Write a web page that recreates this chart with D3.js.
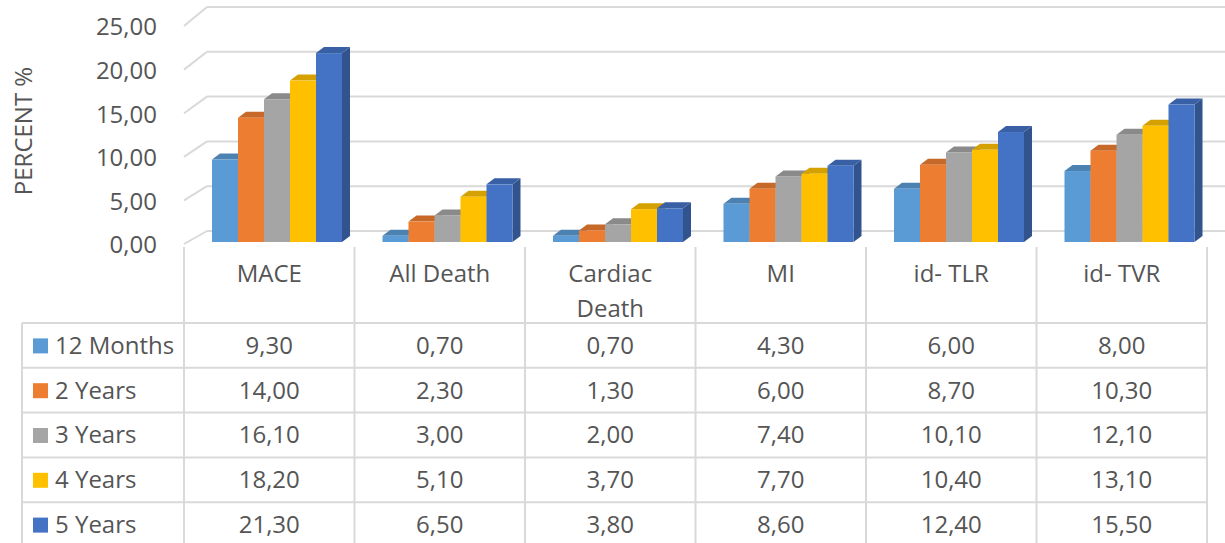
<!DOCTYPE html>
<html>
<head>
<meta charset="utf-8">
<script src="https://cdn.jsdelivr.net/npm/d3@7"></script>
<style>
  body { margin: 0; background: #fff; }
  svg { display: block; }
  text { font-family: "Open Sans", sans-serif; fill: #555555; }
</style>
</head>
<body>
<div id="chart"></div>
<script>
var categories = ["MACE", "All Death", "Cardiac Death", "MI", "id- TLR", "id- TVR"];
var seriesNames = ["12 Months", "2 Years", "3 Years", "4 Years", "5 Years"];
var months12 = [9.3, 0.7, 0.7, 4.3, 6.0, 8.0];
var years2 = [14.0, 2.3, 1.3, 6.0, 8.7, 10.3];
var years3 = [16.1, 3.0, 2.0, 7.4, 10.1, 12.1];
var years4 = [18.2, 5.1, 3.7, 7.7, 10.4, 13.1];
var years5 = [21.3, 6.5, 3.8, 8.6, 12.4, 15.5];
var yTicks = [0, 5, 10, 15, 20, 25];
var colors = ["#5b9bd5", "#ed7d31", "#a5a5a5", "#ffc000", "#4472c4"];

var series = [months12, years2, years3, years4, years5];

var w = 1225;
var h = 543;
var gridColor = "#d9d9d9";
var fontSize = "24px";
var fmt = d3.formatLocale({decimal: ",", thousands: ".", grouping: [3], currency: ["", ""]}).format(".2f");

var svg = d3.select("#chart")
  .append("svg")
  .attr("width", w)
  .attr("height", h);

// category columns (front edge of the table)
var xScale = d3.scaleBand()
  .domain(categories)
  .range([184, 1207]);

var xInner = d3.scaleBand()
  .domain(seriesNames)
  .range([28, 158]);

var yBar = d3.scaleLinear().domain([0, 25]).range([242, 20.3]);
var yBack = d3.scaleLinear().domain([0, 25]).range([231, 7]);
var yFront = d3.scaleLinear().domain([0, 25]).range([245, 27]);

var depthX = 8, depthY = 6;

// back wall gridlines + the floor-depth diagonals
var grid = svg.append("g");
grid.selectAll("line.back")
  .data(yTicks)
  .enter()
  .append("line")
  .attr("x1", 207)
  .attr("x2", w)
  .attr("y1", function(d) { return yBack(d); })
  .attr("y2", function(d) { return yBack(d); })
  .attr("stroke", gridColor)
  .attr("stroke-width", 2);

grid.selectAll("line.diag")
  .data(yTicks)
  .enter()
  .append("line")
  .attr("x1", 184)
  .attr("x2", 207)
  .attr("y1", function(d) { return yFront(d) - 1; })
  .attr("y2", function(d) { return yBack(d); })
  .attr("stroke", gridColor)
  .attr("stroke-width", 2);

// y tick labels
svg.selectAll("text.ytick")
  .data(yTicks)
  .enter()
  .append("text")
  .attr("x", 157)
  .attr("y", function(d) { return yFront(d); })
  .attr("dy", "0.35em")
  .attr("text-anchor", "end")
  .style("font-size", fontSize)
  .text(function(d) { return fmt(d); });

svg.append("text")
  .attr("transform", "translate(32,131) rotate(-90)")
  .attr("text-anchor", "middle")
  .style("font-size", "24px")
  .text("PERCENT %");

// 3D bars
var bars = svg.append("g");
categories.forEach(function(cat, ci) {
  seriesNames.forEach(function(name, si) {
    var v = series[si][ci];
    var x = xScale(cat) + xInner(name);
    var bw = xInner.bandwidth();
    var yt = yBar(v), yb = yBar(0);
    var c = d3.color(colors[si]);
    var g = bars.append("g");
    g.append("polygon")
      .attr("points", [[x + bw, yt], [x + bw + depthX, yt - depthY], [x + bw + depthX, yb - depthY], [x + bw, yb]].join(" "))
      .attr("fill", c.darker(0.9));
    g.append("polygon")
      .attr("points", [[x, yt], [x + depthX, yt - depthY], [x + bw + depthX, yt - depthY], [x + bw, yt]].join(" "))
      .attr("fill", c.darker(0.5));
    g.append("rect")
      .attr("x", x)
      .attr("y", yt)
      .attr("width", bw)
      .attr("height", yb - yt)
      .attr("fill", colors[si]);
  });
});

// data table
var table = svg.append("g");
var headerTop = 247;
var rowTop = 323;
var rowH = 44.8;
var colEdges = categories.map(function(c) { return xScale(c); }).concat([xScale.range()[1]]);

table.selectAll("line.col")
  .data(colEdges)
  .enter()
  .append("line")
  .attr("x1", function(d) { return d; })
  .attr("x2", function(d) { return d; })
  .attr("y1", headerTop)
  .attr("y2", h + 5)
  .attr("stroke", gridColor)
  .attr("stroke-width", 2);

table.append("line")
  .attr("x1", 22).attr("x2", 22)
  .attr("y1", rowTop).attr("y2", h + 5)
  .attr("stroke", gridColor)
  .attr("stroke-width", 2);

table.selectAll("line.row")
  .data(d3.range(seriesNames.length + 1))
  .enter()
  .append("line")
  .attr("x1", 22)
  .attr("x2", 1207)
  .attr("y1", function(i) { return rowTop + i * rowH; })
  .attr("y2", function(i) { return rowTop + i * rowH; })
  .attr("stroke", gridColor)
  .attr("stroke-width", 2);

// category labels
categories.forEach(function(cat) {
  var cx = xScale(cat) + xScale.bandwidth() / 2;
  var lines = cat == "Cardiac Death" ? ["Cardiac", "Death"] : [cat];
  lines.forEach(function(line, li) {
    table.append("text")
      .attr("x", cx)
      .attr("y", 282 + li * 35)
      .attr("text-anchor", "middle")
      .style("font-size", fontSize)
      .text(line);
  });
});

// legend keys + values
seriesNames.forEach(function(name, si) {
  var cy = rowTop + si * rowH + rowH / 2;
  table.append("rect")
    .attr("x", 33)
    .attr("y", cy - 7)
    .attr("width", 15)
    .attr("height", 15)
    .attr("fill", colors[si]);
  table.append("text")
    .attr("x", 55)
    .attr("y", cy)
    .attr("dy", "0.35em")
    .style("font-size", fontSize)
    .text(name);
  categories.forEach(function(cat, ci) {
    table.append("text")
      .attr("x", xScale(cat) + xScale.bandwidth() / 2)
      .attr("y", cy)
      .attr("dy", "0.35em")
      .attr("text-anchor", "middle")
      .style("font-size", fontSize)
      .text(fmt(series[si][ci]));
  });
});
</script>
</body>
</html>
